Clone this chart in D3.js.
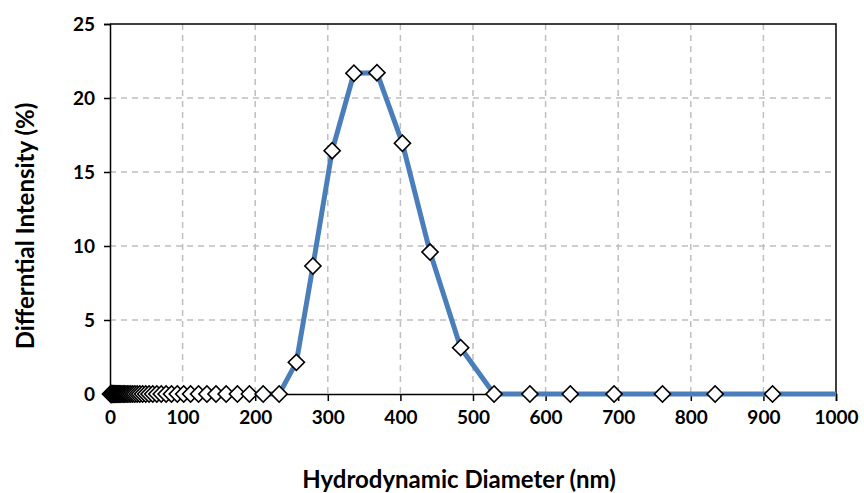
<!DOCTYPE html>
<html>
<head>
<meta charset="utf-8">
<script src="https://cdn.jsdelivr.net/npm/d3@7"></script>
<style>
  body { margin: 0; background: #fff; }
  text { font-family: Lato, "Open Sans", sans-serif; font-weight: bold; fill: #000; }
</style>
</head>
<body>
<div id="chart"></div>
<script>
// hydrodynamic diameter (nm) of each size bin
const diameters = [
    1.0, 1.1, 1.2, 1.3, 1.4, 1.6, 1.7, 1.9, 2.1, 2.3, 2.5, 2.7, 3.0, 3.3, 3.6, 3.9,
    4.3, 4.7, 5.1, 5.6, 6.1, 6.7, 7.3, 8.0, 8.8, 9.6, 10.5, 11.5, 12.6, 13.8, 15.1,
    16.6, 18.2, 19.9, 21.8, 23.8, 26.1, 28.6, 31.3, 34.2, 37.5, 41.0, 44.9, 49.2,
    53.8, 58.9, 64.5, 70.6, 77.3, 84.7, 92.7, 101.5, 111, 122, 133.5, 146, 160,
    175.5, 192, 211, 233, 256.7, 279.5, 306, 336, 367.7, 402.8, 440.8, 483, 529,
    578.4, 634, 694.3, 761, 833.5, 912.6, 1093
];
// differential intensity (%) for each bin
const intensity = [
    0, 0, 0, 0, 0, 0, 0, 0, 0, 0, 0, 0, 0, 0, 0, 0,
    0, 0, 0, 0, 0, 0, 0, 0, 0, 0, 0, 0, 0, 0, 0,
    0, 0, 0, 0, 0, 0, 0, 0, 0, 0, 0, 0, 0,
    0, 0, 0, 0, 0, 0, 0, 0, 0, 0, 0, 0, 0,
    0, 0, 0, 0, 2.14, 8.65, 16.44, 21.67, 21.71, 16.94, 9.59, 3.13, 0,
    0, 0, 0, 0, 0, 0, 0
];
const xTicks = [0, 100, 200, 300, 400, 500, 600, 700, 800, 900, 1000];
const yTicks = [0, 5, 10, 15, 20, 25];

const W = 864, H = 493;
const margin = { top: 24, right: 28, bottom: 99, left: 110 };
const iw = W - margin.left - margin.right;
const ih = H - margin.top - margin.bottom;

const data = diameters.map((d, i) => ({ x: d, y: intensity[i] }));

const svg = d3.select('#chart').append('svg')
    .attr('width', W)
    .attr('height', H);

svg.append('defs').append('clipPath')
    .attr('id', 'plotclip')
    .append('rect')
    .attr('x', -10).attr('y', -10)
    .attr('width', iw + 10).attr('height', ih + 20);

const g = svg.append('g')
    .attr('transform', `translate(${margin.left},${margin.top})`);

const x = d3.scaleLinear().domain([0, 1000]).range([0, iw]);
const y = d3.scaleLinear().domain([0, 25]).range([ih, 0]);

// grid
g.append('g')
    .selectAll('line')
    .data(xTicks.slice(1, -1))
    .enter()
    .append('line')
    .attr('x1', d => x(d)).attr('x2', d => x(d))
    .attr('y1', 0).attr('y2', ih)
    .attr('stroke', '#bfbfbf')
    .attr('stroke-width', 1.5)
    .attr('stroke-dasharray', '6,5');

g.append('g')
    .selectAll('line')
    .data(yTicks.slice(1, -1))
    .enter()
    .append('line')
    .attr('x1', 0).attr('x2', iw)
    .attr('y1', d => y(d)).attr('y2', d => y(d))
    .attr('stroke', '#bfbfbf')
    .attr('stroke-width', 1.5)
    .attr('stroke-dasharray', '6,5');

// top and right border
g.append('path')
    .attr('d', `M0,0H${iw}V${ih}`)
    .attr('fill', 'none')
    .attr('stroke', '#000')
    .attr('stroke-width', 1.5);

// axes
const xAxis = g.append('g')
    .attr('transform', `translate(0,${ih})`)
    .call(d3.axisBottom(x).tickValues(xTicks).tickFormat(d3.format('d')).tickSize(7).tickPadding(10));
const yAxis = g.append('g')
    .call(d3.axisLeft(y).tickValues(yTicks).tickSize(6).tickPadding(9));

[xAxis, yAxis].forEach(a => {
    a.selectAll('path, line').attr('stroke', '#000').attr('stroke-width', 1.5);
    a.selectAll('text').attr('font-size', 19).attr('font-family', 'Lato, sans-serif')
        .attr('font-weight', 'bold').attr('fill', '#000');
});

// line
const plot = g.append('g').attr('clip-path', 'url(#plotclip)');

plot.append('path')
    .datum(data)
    .attr('d', d3.line().x(d => x(d.x)).y(d => y(d.y)))
    .attr('fill', 'none')
    .attr('stroke', '#4a7ebb')
    .attr('stroke-width', 5)
    .attr('stroke-linejoin', 'round');

// markers
plot.selectAll('.pt')
    .data(data.filter(d => d.x <= 1000))
    .enter()
    .append('path')
    .attr('class', 'pt')
    .attr('d', d3.symbol(d3.symbolSquare, 130))
    .attr('transform', d => `translate(${x(d.x)},${y(d.y)}) rotate(45)`)
    .attr('fill', '#fff')
    .attr('stroke', '#000')
    .attr('stroke-width', 1.6);

// titles
svg.append('text')
    .attr('x', 459)
    .attr('y', 488)
    .attr('text-anchor', 'middle')
    .attr('font-size', 24)
    .text('Hydrodynamic Diameter (nm)');

svg.append('text')
    .attr('transform', 'translate(34,226) rotate(-90)')
    .attr('text-anchor', 'middle')
    .attr('font-size', 24)
    .text('Differntial Intensity (%)');
</script>
</body>
</html>
